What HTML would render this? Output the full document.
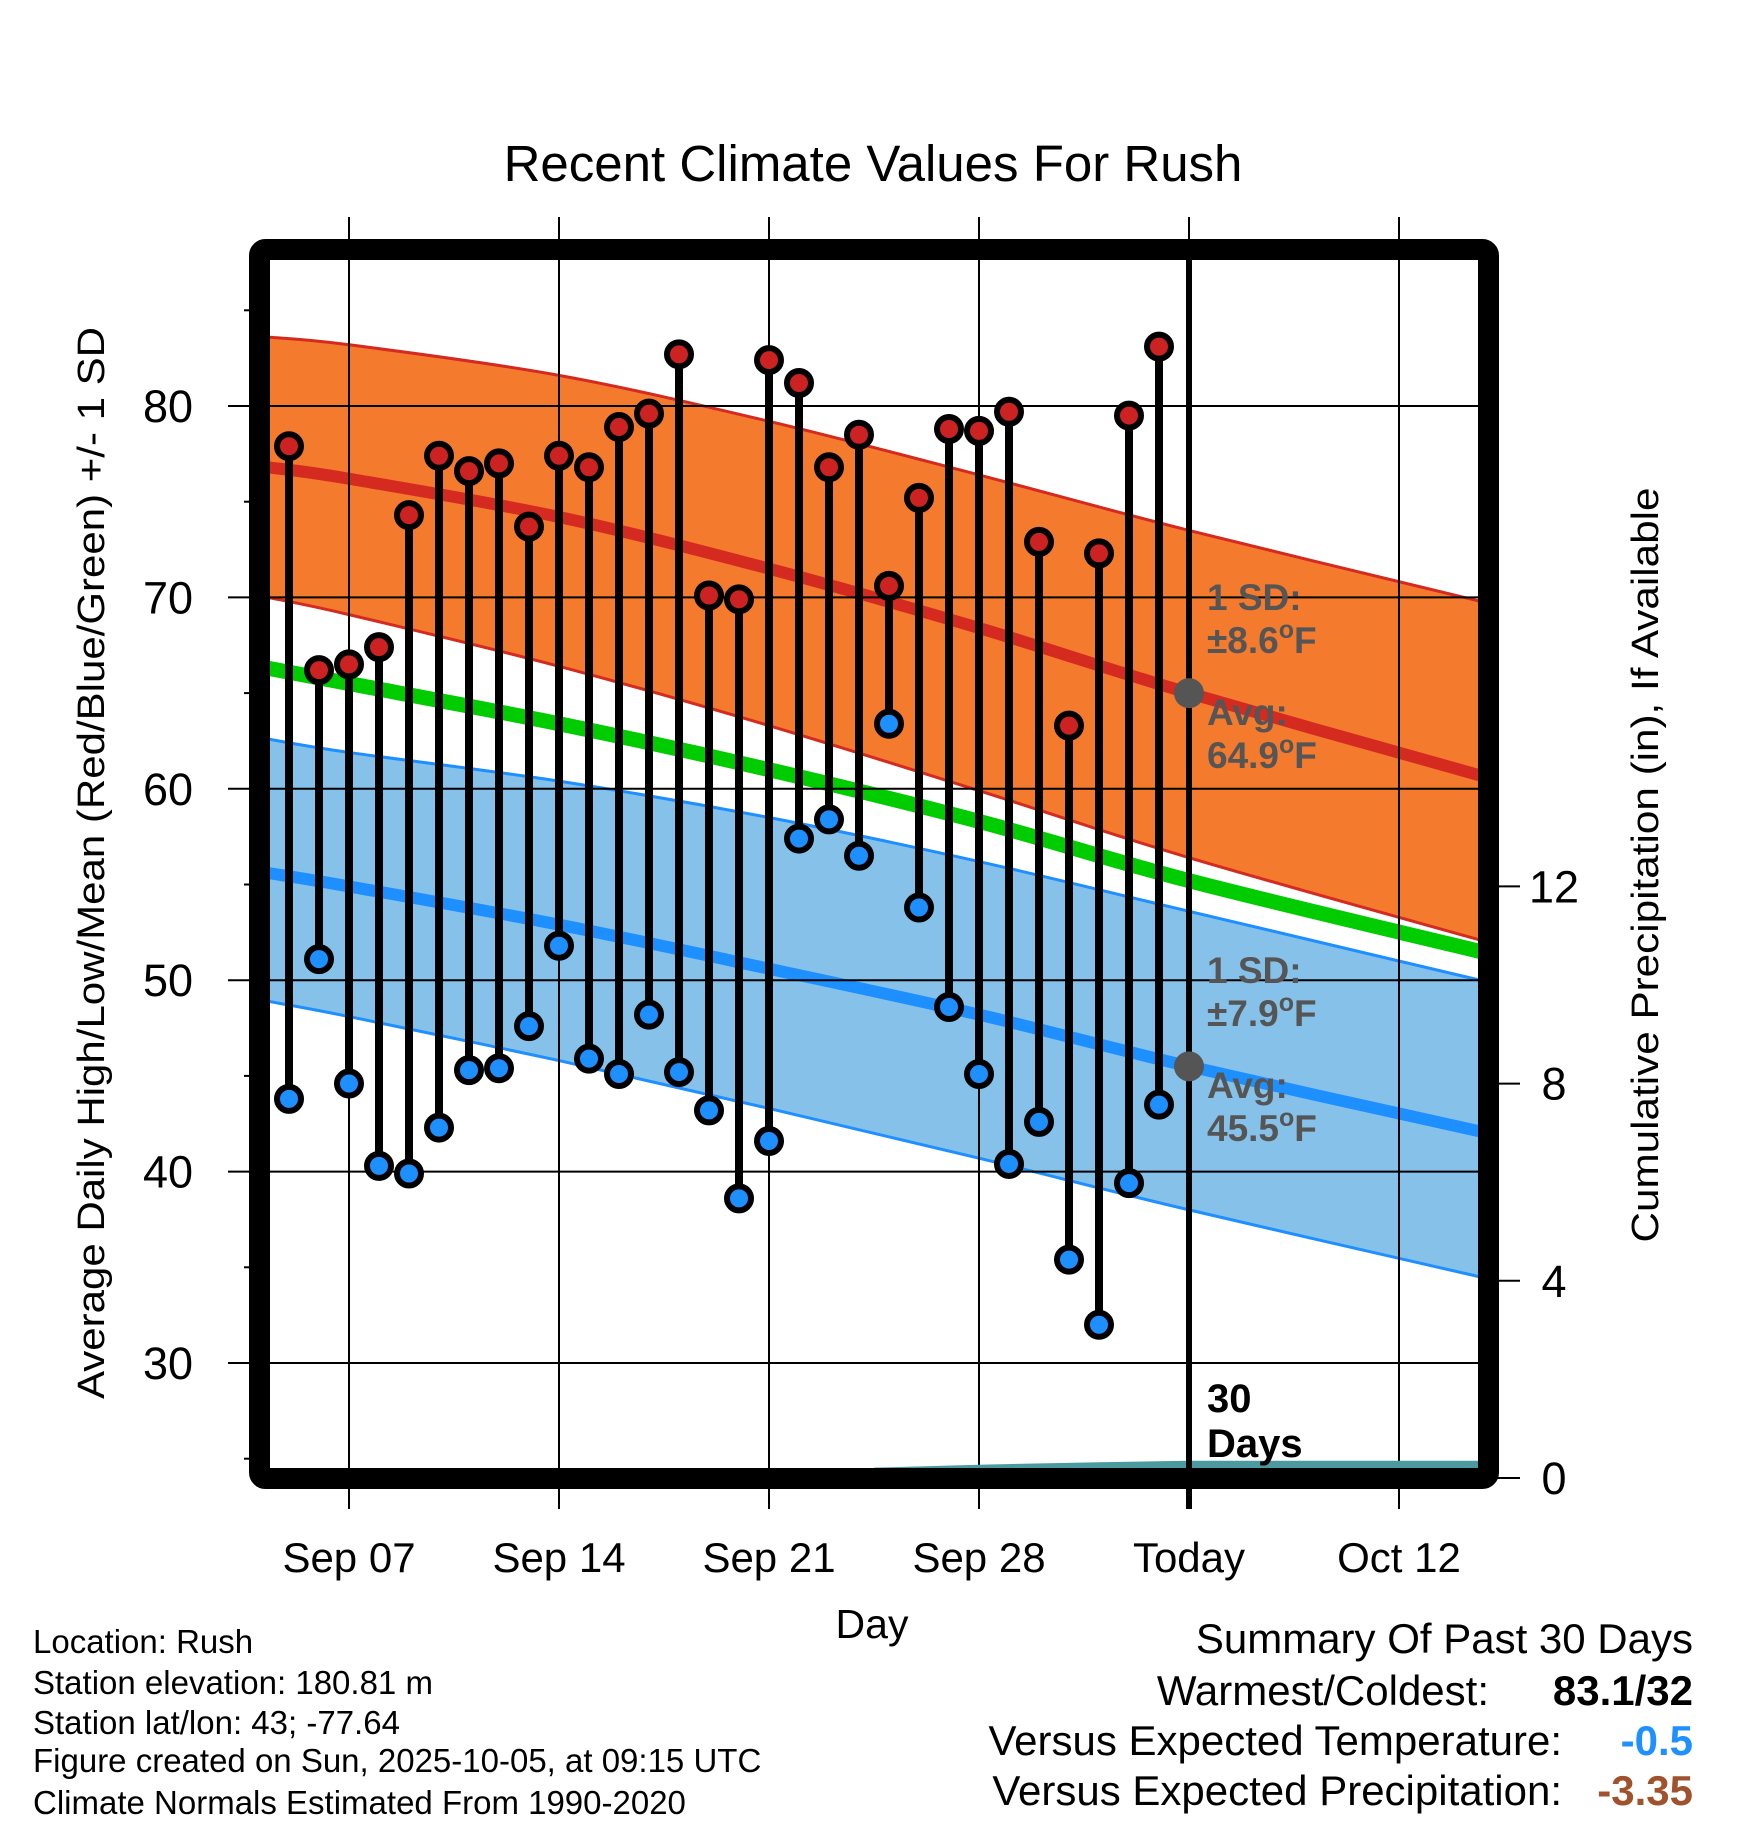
<!DOCTYPE html>
<html><head><meta charset="utf-8"><style>
html,body{margin:0;padding:0;background:#fff}
svg{display:block}
text{font-family:"Liberation Sans",sans-serif}
</style></head><body>
<svg id="chart" width="1748" height="1828" viewBox="0 0 1748 1828" xmlns="http://www.w3.org/2000/svg">
<defs><clipPath id="plotclip"><rect x="270" y="260" width="1208" height="1208"/></clipPath></defs>
<rect x="0" y="0" width="1748" height="1828" fill="#fff"/>
<text x="873" y="181" font-size="51" text-anchor="middle">Recent Climate Values For Rush</text>
<g id="bands" clip-path="url(#plotclip)"></g>
<g id="grid"></g>
<g id="precip" clip-path="url(#plotclip)"></g>
<g id="marks"></g>
<g id="axes"></g>
<g id="annot"></g>
<text transform="translate(104,863) rotate(-90)" font-size="38" text-anchor="middle" textLength="1072" lengthAdjust="spacingAndGlyphs">Average Daily High/Low/Mean (Red/Blue/Green) +/- 1 SD</text>
<text transform="translate(1658,865) rotate(-90)" font-size="38" text-anchor="middle" textLength="755" lengthAdjust="spacingAndGlyphs">Cumulative Precipitation (in), If Available</text>
<text x="872" y="1638" font-size="41" text-anchor="middle">Day</text>
<g font-size="33">
<text x="33" y="1653">Location: Rush</text>
<text x="33" y="1694">Station elevation: 180.81 m</text>
<text x="33" y="1734">Station lat/lon: 43; -77.64</text>
<text x="33" y="1772">Figure created on Sun, 2025-10-05, at 09:15 UTC</text>
<text x="33" y="1814">Climate Normals Estimated From 1990-2020</text>
</g>
<g font-size="42">
<text x="1693" y="1653" text-anchor="end">Summary Of Past 30 Days</text>
<text x="1489" y="1705" text-anchor="end">Warmest/Coldest:</text>
<text x="1693" y="1705" text-anchor="end" font-weight="bold">83.1/32</text>
<text x="1562" y="1755" text-anchor="end">Versus Expected Temperature:</text>
<text x="1693" y="1755" text-anchor="end" font-weight="bold" fill="#1e90ff">-0.5</text>
<text x="1562" y="1805" text-anchor="end">Versus Expected Precipitation:</text>
<text x="1693" y="1805" text-anchor="end" font-weight="bold" fill="#a0522d">-3.35</text>
</g>
</svg>
<script>
// day index = days since Sep 1 (Sep 5 = 4)
const obsDays = [4,5,6,7,8,9,10,11,12,13,14,15,16,17,18,19,20,21,22,23,24,25,26,27,28,29,30,31,32,33];
const highs = [77.9,66.2,66.5,67.4,74.3,77.4,76.6,77.0,73.7,77.4,76.8,78.9,79.6,82.7,70.1,69.9,82.4,81.2,76.8,78.5,70.6,75.2,78.8,78.7,79.7,72.9,63.3,72.3,79.5,83.1];
const lows = [43.8,51.1,44.6,40.3,39.9,42.3,45.3,45.4,47.6,51.8,45.9,45.1,48.2,45.2,43.2,38.6,41.6,57.4,58.4,56.5,63.4,53.8,48.6,45.1,40.4,42.6,35.4,32.0,39.4,43.5];
const normDays = [3.3,6,13,20,27,34,43.7];
const highUpper = [83.6,83.2,81.6,79.2,76.4,73.5,69.8];
const highMean = [76.8,76.2,74.2,71.5,68.4,65.0,60.7];
const highLower = [70.0,69.1,66.4,63.3,59.9,56.4,52.1];
const meanTemp = [66.3,65.5,63.4,61.0,58.3,55.2,51.5];
const lowUpper = [62.6,61.9,60.4,58.5,56.2,53.6,50.0];
const lowMean = [55.6,54.9,52.9,50.6,48.2,45.5,42.1];
const lowLower = [48.9,48.1,45.8,43.3,40.7,38.0,34.5];
const precipDays = [23.5,27,31,34,43.7];
const precipVals = [0.21,0.27,0.32,0.35,0.35];
const xTickDays = [6,13,20,27,34,41];
const xTickLabels = ["Sep 07","Sep 14","Sep 21","Sep 28","Today","Oct 12"];
const yTicks = [30,40,50,60,70,80];
const yMinor = [25,35,45,55,65,75,85];
const pTicks = [0,4,8,12];
const todayDay = 34;

const NS="http://www.w3.org/2000/svg";
const x = d => 349 + (d-6)*30;
const y = t => 406 + (80-t)*19.14;
const yp = p => 1478 - p*49.3;
function mk(tag, attrs, parent){const e=document.createElementNS(NS,tag);for(const k in attrs)e.setAttribute(k,attrs[k]);parent.appendChild(e);return e;}
const bands=document.getElementById('bands'),grid=document.getElementById('grid'),precip=document.getElementById('precip'),marks=document.getElementById('marks'),axes=document.getElementById('axes'),annot=document.getElementById('annot');
function curve(P,start){
  let s=start+P[0][0]+','+P[0][1];
  for(let i=0;i<P.length-1;i++){
    const p0=P[Math.max(0,i-1)],p1=P[i],p2=P[i+1],p3=P[Math.min(P.length-1,i+2)];
    const c1=[p1[0]+(p2[0]-p0[0])/6,p1[1]+(p2[1]-p0[1])/6];
    const c2=[p2[0]-(p3[0]-p1[0])/6,p2[1]-(p3[1]-p1[1])/6];
    s+=' C'+c1[0]+','+c1[1]+' '+c2[0]+','+c2[1]+' '+p2[0]+','+p2[1];
  }
  return s;
}
function smoothPts(arr){return curve(normDays.map((d,i)=>[x(d),y(arr[i])]),'M');}
function revSmooth(arr){return curve(normDays.map((d,i)=>[x(d),y(arr[i])]).reverse(),' L')+' Z';}
function area(up,lo,fill,name){
  const e=mk('path',{d:smoothPts(up)+revSmooth(lo),fill:fill},bands);
  
  
}
function line(arr,color,w,name){
  const e=mk('path',{d:smoothPts(arr),fill:'none',stroke:color,'stroke-width':w},bands);
  
  
}
area(lowUpper,lowLower,'#85c1e8','low-sd-band');
area(highUpper,highLower,'#f47a2e','high-sd-band');
line(highUpper,'#d42a20',3,'high-upper-sd-line');
line(highLower,'#d42a20',3,'high-lower-sd-line');
line(lowUpper,'#1e8fff',3,'low-upper-sd-line');
line(lowLower,'#1e8fff',3,'low-lower-sd-line');
line(meanTemp,'#00cc00',15,'mean-temp-normal-line');
line(highMean,'#d42a20',12,'high-normal-line');
line(lowMean,'#1e8fff',12,'low-normal-line');

// grid
yTicks.forEach(t=>{
  const g=mk('line',{x1:228,x2:1478,y1:y(t),y2:y(t),stroke:'#000','stroke-width':2},grid);
  
  
  const tx=mk('text',{x:193,y:y(t)+16,'font-size':45,'text-anchor':'end'},axes);
  tx.textContent=t;
  
  
});
yMinor.forEach(t=>{
  const g=mk('line',{x1:244,x2:260,y1:y(t),y2:y(t),stroke:'#000','stroke-width':2},grid);
  
  
});
xTickDays.forEach((d,i)=>{
  const g=mk('line',{x1:x(d),x2:x(d),y1:217,y2:1509,stroke:'#000','stroke-width':2},grid);
  
  
  const tx=mk('text',{x:x(d),y:1572,'font-size':42,'text-anchor':'middle'},axes);
  tx.textContent=xTickLabels[i];
  
  
});
pTicks.forEach(p=>{
  const g=mk('line',{x1:1490,x2:1520,y1:yp(p),y2:yp(p),stroke:'#000','stroke-width':2},axes);
  
  
  const tx=mk('text',{x:1554,y:yp(p)+16,'font-size':45,'text-anchor':'middle'},axes);
  tx.textContent=p;
  
  
});

// precip area
{
  const n=precipDays.length;
  const p=precipDays.map((d,i)=>x(d)+','+yp(precipVals[i])).concat([x(precipDays[n-1])+',1470',x(precipDays[0])+',1470']).join(' ');
  const e=mk('polygon',{points:p,fill:'#4a9aa0'},precip);
  
  
}

// today line
{
  const e=mk('line',{x1:x(todayDay),x2:x(todayDay),y1:260,y2:1509,stroke:'#000','stroke-width':6},marks);
  
  
}

// stems + markers
obsDays.forEach((d,i)=>{
  const s=mk('line',{x1:x(d),x2:x(d),y1:y(highs[i]),y2:y(lows[i]),stroke:'#000','stroke-width':8},marks);
  
  
});
obsDays.forEach((d,i)=>{
  const h=mk('circle',{cx:x(d),cy:y(highs[i]),r:12,fill:'#cc2222',stroke:'#000','stroke-width':6},marks);
  
  
  const l=mk('circle',{cx:x(d),cy:y(lows[i]),r:12,fill:'#1e8fff',stroke:'#000','stroke-width':6},marks);
  
  
});

// frame
{
  const f=mk('rect',{x:259.5,y:249.5,width:1229,height:1229,rx:6,fill:'none',stroke:'#000','stroke-width':21},axes);
  
  
}

// annotations
const todayHigh = highMean[5], todayLow = lowMean[5];
{
  const a=mk('circle',{cx:x(todayDay),cy:y(todayHigh),r:15,fill:'#555'},annot);
  
  
  const b=mk('circle',{cx:x(todayDay),cy:y(todayLow),r:15,fill:'#555'},annot);
  
  
}
function atext(str,yy,name,color,fs){
  const t=mk('text',{x:1207,y:yy,'font-size':fs||37,'font-weight':'bold',fill:color||'#555'},annot);
  t.innerHTML=str;
  
  
}
atext('1 SD:',610,'high-sd-label');
atext('±8.6<tspan dy="-15" font-size="25">o</tspan><tspan dy="15">F</tspan>',653,'high-sd-value');
atext('Avg:',725,'high-avg-label');
atext('64.9<tspan dy="-15" font-size="25">o</tspan><tspan dy="15">F</tspan>',768,'high-avg-value');
atext('1 SD:',983,'low-sd-label');
atext('±7.9<tspan dy="-15" font-size="25">o</tspan><tspan dy="15">F</tspan>',1026,'low-sd-value');
atext('Avg:',1098,'low-avg-label');
atext('45.5<tspan dy="-15" font-size="25">o</tspan><tspan dy="15">F</tspan>',1141,'low-avg-value');
atext('30',1412,'days-count-label','#000',40);
atext('Days',1457,'days-word-label','#000',40);
</script>
</body></html>
